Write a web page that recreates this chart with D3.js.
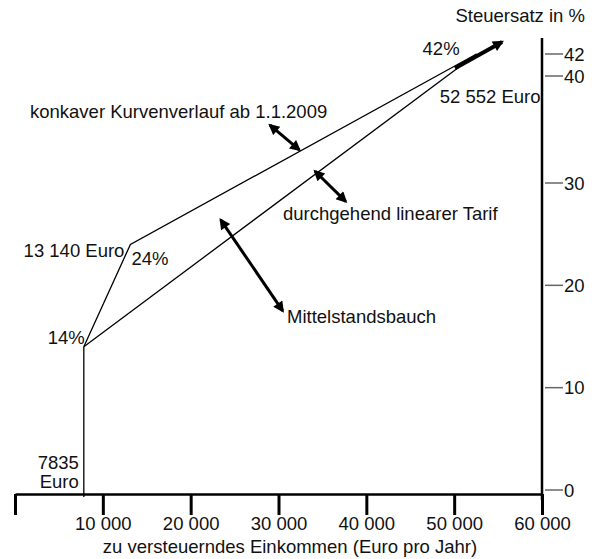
<!DOCTYPE html>
<html>
<head>
<meta charset="utf-8">
<script src="https://cdn.jsdelivr.net/npm/d3@7"></script>
<style>
  body { margin: 0; background: #fff; }
  svg { font-family: "Liberation Sans", Arial, Helvetica, sans-serif; }
  .lbl { font-size: 18.5px; fill: #111; }
</style>
</head>
<body>
<svg id="chart"></svg>
<script>
// tax schedule data (income in Euro, rate in %)
var incomeTicks = [0, 10000, 20000, 30000, 40000, 50000, 60000];
var incomeTickLabels = ["", "10 000", "20 000", "30 000", "40 000", "50 000", "60 000"];
var rateTicks = [0, 10, 20, 30, 40, 42];

var tarif2009Income = [7835, 13140, 52552];
var tarif2009Rate = [14, 24, 42];
var linearIncome = [7835, 52552];
var linearRate = [14, 42];
var basicAllowance = 7835;

// annotation arrows in data units [income, rate]
var arrowKonkav = [[29030, 35.4], [32370, 33.1]];
var arrowLinear = [[34160, 31.1], [37650, 28.2]];
var arrowBauch = [[23420, 26.4], [30480, 17.5]];
var arrowTop = [[50100, 40.7], [55450, 43.1]];

var width = 595, height = 559;

var svg = d3.select("#chart")
  .attr("width", width)
  .attr("height", height);

var x = d3.scaleLinear()
  .domain([0, 60000])
  .range([15, 542]);

// the printed axis is not quite even, so a piecewise scale
var y = d3.scaleLinear()
  .domain([0, 30, 40, 42])
  .range([490, 183, 76, 54]);

var axisY = 494;

// markers for arrows
var defs = svg.append("defs");
defs.append("marker")
  .attr("id", "head")
  .attr("viewBox", "0 0 10 10")
  .attr("refX", 8)
  .attr("refY", 5)
  .attr("markerUnits", "userSpaceOnUse")
  .attr("markerWidth", 13)
  .attr("markerHeight", 11)
  .attr("orient", "auto-start-reverse")
  .append("path")
  .attr("d", "M0,0L10,5L0,10Z")
  .attr("fill", "#000");

// x axis
var xAxis = svg.append("g")
  .attr("transform", "translate(0," + axisY + ")")
  .call(d3.axisBottom(x)
    .tickValues(incomeTicks)
    .tickSize(21)
    .tickSizeOuter(0)
    .tickFormat(function(d, i) { return incomeTickLabels[i]; }));

xAxis.select(".domain").attr("stroke", "#000").attr("stroke-width", 2.5);
xAxis.selectAll(".tick line").attr("stroke", "#000").attr("stroke-width", 3);
xAxis.selectAll(".tick text")
  .attr("fill", "#111")
  .attr("y", 23)
  .style("font-size", "18.5px")
  .style("font-family", "\"Liberation Sans\", Arial, Helvetica, sans-serif");

svg.append("text")
  .attr("class", "lbl")
  .attr("x", 290)
  .attr("y", 553)
  .attr("text-anchor", "middle")
  .text("zu versteuerndes Einkommen (Euro pro Jahr)");

// y axis on the right
svg.append("line")
  .attr("x1", x(60000)).attr("x2", x(60000))
  .attr("y1", 38).attr("y2", 500)
  .attr("stroke", "#000")
  .attr("stroke-width", 2.5);

var yTick = svg.append("g").selectAll("g")
  .data(rateTicks)
  .enter().append("g")
  .attr("transform", function(d) { return "translate(0," + y(d) + ")"; });

yTick.append("line")
  .attr("x1", x(60000) + 3)
  .attr("x2", x(60000) + 21)
  .attr("stroke", "#666")
  .attr("stroke-width", 1.5);

yTick.append("text")
  .attr("class", "lbl")
  .attr("x", x(60000) + 22)
  .attr("dy", "0.36em")
  .text(function(d) { return d; });

svg.append("text")
  .attr("class", "lbl")
  .attr("x", 585)
  .attr("y", 22)
  .attr("text-anchor", "end")
  .text("Steuersatz in %");

// tariff lines
var line = d3.line()
  .x(function(d) { return x(d[0]); })
  .y(function(d) { return y(d[1]); });

svg.append("line")
  .attr("x1", x(basicAllowance)).attr("x2", x(basicAllowance))
  .attr("y1", axisY + 3).attr("y2", y(14))
  .attr("stroke", "#000")
  .attr("stroke-width", 1.3);

svg.append("path")
  .datum(d3.zip(tarif2009Income, tarif2009Rate))
  .attr("d", line)
  .attr("fill", "none")
  .attr("stroke", "#000")
  .attr("stroke-width", 1.3);

svg.append("path")
  .datum(d3.zip(linearIncome, linearRate))
  .attr("d", line)
  .attr("fill", "none")
  .attr("stroke", "#000")
  .attr("stroke-width", 1.3);

// arrows
[arrowKonkav, arrowLinear, arrowBauch].forEach(function(a) {
  svg.append("path")
    .attr("d", line(a))
    .attr("stroke", "#000")
    .attr("stroke-width", 3)
    .attr("marker-start", "url(#head)")
    .attr("marker-end", "url(#head)");
});

svg.append("path")
  .attr("d", line(arrowTop))
  .attr("stroke", "#000")
  .attr("stroke-width", 4)
  .attr("marker-end", "url(#head)");

// labels
function label(px, py, anchor, txt) {
  svg.append("text")
    .attr("class", "lbl")
    .attr("x", px)
    .attr("y", py)
    .attr("text-anchor", anchor)
    .text(txt);
}

label(x(basicAllowance) - 5, 469, "end", "7835");
label(x(basicAllowance) - 5, 488, "end", "Euro");
label(x(7835) + 1, y(14) - 3, "end", "14%");
label(x(13140) - 6, y(24) + 13, "end", "13 140 Euro");
label(x(13140) + 1, y(24) + 21, "start", "24%");
label(x(52552) - 54, y(42) + 1, "start", "42%");
label(x(52552) + 64, y(42) + 49, "end", "52 552 Euro");
label(30, 118, "start", "konkaver Kurvenverlauf ab 1.1.2009");
label(283, 220, "start", "durchgehend linearer Tarif");
label(287, 323, "start", "Mittelstandsbauch");
</script>
</body>
</html>
